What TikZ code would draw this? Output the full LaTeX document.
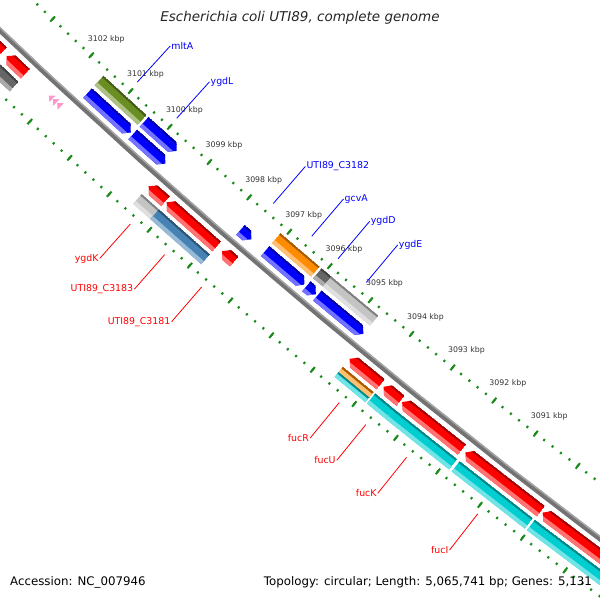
\documentclass[tikz,border=0pt]{standalone}
\usepackage{fontspec}
\setmainfont{DejaVu Sans}[ItalicFont={DejaVu Sans Oblique}]

\definecolor{cogolive}{HTML}{6B8E23}
\definecolor{cogorange}{HTML}{FF8C00}
\definecolor{cogdark}{HTML}{666666}
\definecolor{coglight}{HTML}{C4C4C4}
\definecolor{cogsteel}{HTML}{4682B4}
\definecolor{cogcyan}{HTML}{00CED1}
\definecolor{tickgreen}{HTML}{1A8A1A}
\definecolor{reppink}{HTML}{FF99CC}

% kbp -> angle on the (very large) genome circle
\newcommand{\ang}[1]{132.8135+0.43923*(#1-3102)}

% \gene{hi kbp}{lo kbp}{inner r}{outer r}{colour}{tip: 0 none, 1 at lo, 2 at hi}
\newcommand{\gene}[6]{%
  \pgfmathsetmacro{\gAh}{\ang{#1}}%
  \pgfmathsetmacro{\gAl}{\ang{#2}}%
  \pgfmathsetmacro{\gHh}{\gAh-0.05}%
  \pgfmathsetmacro{\gLl}{\gAl+0.05}%
  \pgfmathsetmacro{\gRm}{(#3+#4)/2}%
  \pgfmathsetmacro{\gRd}{#3+2}%
  \pgfmathsetmacro{\gRl}{#4-4}%
  \begin{scope}
    \ifcase#6\relax
      \clip (\gAh:#3) -- (\gAl:#3) -- (\gAl:#4) -- (\gAh:#4) -- cycle;
    \or
      \clip (\gAh:#3) -- (\gLl:#3) -- (\gAl:\gRm) -- (\gLl:#4) -- (\gAh:#4) -- cycle;
    \or
      \clip (\gHh:#3) -- (\gAh:\gRm) -- (\gHh:#4) -- (\gAl:#4) -- (\gAl:#3) -- cycle;
    \fi
    \fill[#5] (\gAh:#3) -- (\gAl:#3) -- (\gAl:#4) -- (\gAh:#4) -- cycle;
    \fill[#5!55!white] (\gAh:\gRl) -- (\gAl:\gRl) -- (\gAl:#4) -- (\gAh:#4) -- cycle;
    \fill[#5!65!black] (\gAh:#3) -- (\gAl:#3) -- (\gAl:\gRd) -- (\gAh:\gRd) -- cycle;
  \end{scope}}

\begin{document}
\begin{tikzpicture}[x=1pt, y=-1pt]
\tikzstyle{every node}=[inner sep=1pt]
\tikzstyle{ticklbl}=[font=\fontsize{7.8}{9}\selectfont, text=black!80]
\tikzstyle{uplbl}=[font=\fontsize{9.4}{11}\selectfont, text=blue, anchor=west]
\tikzstyle{dnlbl}=[font=\fontsize{9.4}{11}\selectfont, text=red, anchor=east]
\tikzstyle{kbtick}=[draw=tickgreen, line width=2pt]
\useasboundingbox (0,0) rectangle (600,600);
\begin{scope}
\clip (0,0) rectangle (600,600);
\begin{scope}[shift={(4795.5,-5022.3)}]
% ruler ticks, both sides of the backbone
\foreach \i in {0,...,95}{
  \pgfmathsetmacro{\tk}{\ang{3086+0.2*\i}}
  \draw[kbtick] (\tk:6920.8) -- (\tk:6923.2) (\tk:7011.3) -- (\tk:7013.7);
}
\foreach \k in {3086,...,3105}{
  \pgfmathsetmacro{\tk}{\ang{\k}}
  \draw[kbtick] (\tk:6918.5) -- (\tk:6925.5) (\tk:7009) -- (\tk:7016);
}
\foreach \k in {3091,...,3102}
  \node[ticklbl] (k\k) at ({\ang{\k}}:6900) {\k\ kbp};

% backbone
\draw[line width=5pt, draw=black!55] plot[domain=3085:3106, samples=43] ({\ang{\x}}:6966.5);
\draw[line width=1.5pt, draw=black!35] plot[domain=3085:3106, samples=43] ({\ang{\x}}:6964.5);

% COG slot, forward
\gene{3101.57}{3100.47}{6929}{6942}{cogolive}{0}
\gene{3100.42}{3099.60}{6929}{6942}{blue}{1}
\gene{3097.11}{3096.14}{6929}{6942}{cogorange}{0}
\gene{3096.09}{3095.85}{6929}{6942}{cogdark}{0}
\gene{3095.85}{3094.70}{6929}{6942}{coglight}{0}
% forward strand
\gene{3101.57}{3100.47}{6946}{6959}{blue}{1}
\gene{3100.42}{3099.60}{6946}{6959}{blue}{1}
\gene{3097.72}{3097.45}{6946}{6959}{blue}{1}
\gene{3097.11}{3096.14}{6946}{6959}{blue}{1}
\gene{3096.09}{3095.86}{6946}{6959}{blue}{1}
\gene{3095.82}{3094.70}{6946}{6959}{blue}{1}
% reverse strand
\gene{3104.60}{3103.26}{6974}{6987}{red}{2}
\gene{3103.15}{3102.67}{6974}{6987}{red}{2}
\gene{3099.55}{3099.13}{6974}{6987}{red}{2}
\gene{3099.10}{3097.85}{6974}{6987}{red}{2}
\gene{3097.72}{3097.42}{6974}{6987}{red}{2}
\gene{3094.60}{3093.85}{6974}{6987}{red}{2}
\gene{3093.78}{3093.37}{6974}{6987}{red}{2}
\gene{3093.33}{3091.90}{6974}{6987}{red}{2}
\gene{3091.82}{3090.03}{6974}{6987}{red}{2}
\gene{3089.99}{3087.50}{6974}{6987}{red}{2}
\foreach \c in {3102.02,3101.92,3101.81}
  \fill[reppink] ({\ang{\c+0.05}}:6980.5) -- ({\ang{\c-0.04}}:6976) -- ({\ang{\c-0.04}}:6985) -- cycle;
% COG slot, reverse
\gene{3103.15}{3102.66}{6991}{7004}{cogdark}{0}
\gene{3099.55}{3099.12}{6991}{7004}{coglight}{0}
\gene{3099.12}{3097.85}{6991}{7004}{cogsteel}{0}
\gene{3094.60}{3093.86}{6997.5}{7004}{cogcyan}{0}
\gene{3094.60}{3093.86}{6991}{6997.5}{cogorange}{0}
\gene{3093.82}{3093.37}{6991}{7004}{cogcyan}{0}
\gene{3093.37}{3091.86}{6991}{7004}{cogcyan}{0}
\gene{3091.80}{3090.07}{6991}{7004}{cogcyan}{0}
\gene{3090.02}{3087.50}{6991}{7004}{cogcyan}{0}

% gene labels
\foreach \k/\n/\t in {3101.02/mltA/mltA, 3100.01/ygdL/ygdL, 3097.58/cA/UTI89\_C3182,
    3096.625/gcvA/gcvA, 3095.97/ygdD/ygdD, 3095.275/ygdE/ygdE}{
  \coordinate (\n-a) at ({\ang{\k}}:6911);
  \node[uplbl] (\n) at ({\ang{\k}}:6862) {\t};
  \draw[blue, line width=0.8pt] (\n-a) -- (\n.west);
}
\foreach \k/\n/\t in {3099.336/ygdK/ygdK, 3098.484/cB/UTI89\_C3183, 3097.57/cC/UTI89\_C3181,
    3094.23/fucR/fucR, 3093.59/fucU/fucU, 3092.62/fucK/fucK, 3090.93/fucI/fucI}{
  \coordinate (\n-a) at ({\ang{\k}}:7021);
  \node[dnlbl] (\n) at ({\ang{\k}}:7067) {\t};
  \draw[red, line width=0.8pt] (\n-a) -- (\n.east);
}
\end{scope}
\end{scope}

\node[font=\itshape\fontsize{13.5}{16}\selectfont, text=black!85] (title) at (300,18) {Escherichia coli UTI89, complete genome};
\node[anchor=west, font=\fontsize{11.8}{14}\selectfont] (acc) at (9,582) {Accession: NC\_007946};
\node[anchor=east, font=\fontsize{11.8}{14}\selectfont] (topo) at (593,582) {Topology: circular; Length: 5,065,741 bp; Genes: 5,131};
\end{tikzpicture}
\end{document}
